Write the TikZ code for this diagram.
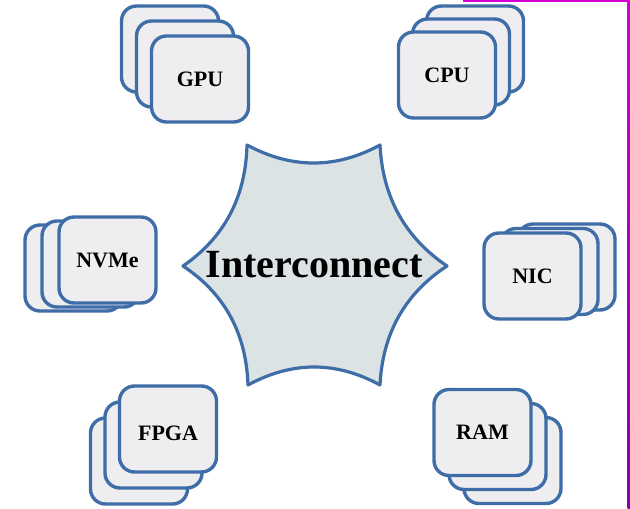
\documentclass[tikz,border=0pt]{standalone}
\usepackage{fontspec}
\setmainfont{Liberation Serif}
\usetikzlibrary{calc}

\definecolor{edgeblue}{HTML}{3F6DA8}
\definecolor{cardfill}{HTML}{EEEEF0}
\definecolor{hubfill}{HTML}{DCE3E5}
\definecolor{railtop}{HTML}{D400D4}
\definecolor{railbot}{HTML}{8A00A6}

% a stack of three cards: name, centre x, centre y, step x, step y, label
\newcommand\cardstack[6]{%
  \node[card] (#1-3) at ({#2+2*(#4)}, {#3+2*(#5)}) {};
  \node[card] (#1-2) at ({#2+(#4)}, {#3+(#5)}) {};
  \node[card] (#1) at (#2, #3) {#6};
}

\begin{document}
\begin{tikzpicture}[x=1pt, y=-1pt,
  card/.style={draw=edgeblue, fill=cardfill, line width=3.4pt,
    rounded corners=15pt, minimum width=97pt, minimum height=86pt,
    inner sep=0pt, font=\fontsize{22}{26}\selectfont\bfseries},
  hub/.style={draw=edgeblue, fill=hubfill, line width=3.2pt, line join=round},
  hublabel/.style={inner sep=0pt, font=\fontsize{40}{46}\selectfont\bfseries},
]
\useasboundingbox (0,0) rectangle (630,509);

% page rail
\fill[railtop] (463,0) rectangle (630,2);
\shade[top color=railtop, bottom color=railbot] (627.5,0) rectangle (630,509);

% central star
\coordinate (h1) at (247,145);
\coordinate (h2) at (380,145);
\coordinate (h3) at (447,266);
\coordinate (h4) at (380,385);
\coordinate (h5) at (248,385);
\coordinate (h6) at (183,266);
\coordinate (q12) at (313.95,181);
\coordinate (q23) at (383.95,223.35);
\coordinate (q34) at (383.95,307.35);
\coordinate (q45) at (314.3,349);
\coordinate (q56) at (245.35,307.35);
\coordinate (q61) at (245,223.35);
\draw[hub] (h1)
  .. controls ($(h1)!2/3!(q12)$) and ($(h2)!2/3!(q12)$) .. (h2)
  .. controls ($(h2)!2/3!(q23)$) and ($(h3)!2/3!(q23)$) .. (h3)
  .. controls ($(h3)!2/3!(q34)$) and ($(h4)!2/3!(q34)$) .. (h4)
  .. controls ($(h4)!2/3!(q45)$) and ($(h5)!2/3!(q45)$) .. (h5)
  .. controls ($(h5)!2/3!(q56)$) and ($(h6)!2/3!(q56)$) .. (h6)
  .. controls ($(h6)!2/3!(q61)$) and ($(h1)!2/3!(q61)$) .. (h1) -- cycle;
\node[hublabel] (hub) at (314,265) {Interconnect};

% device stacks
\cardstack{gpu}{200}{79}{-15}{-15}{GPU}
\cardstack{cpu}{447}{75}{14}{-13}{CPU}
\cardstack{nvme}{107.5}{260}{-17}{4}{NVMe}
\cardstack{nic}{532.5}{276}{17}{-4.5}{NIC}
\cardstack{fpga}{168}{429}{-14.5}{16}{\vphantom{FPGA}\smash{\raisebox{-4pt}{FPGA}}}
\cardstack{ram}{482.5}{432.5}{15}{14}{RAM}
\end{tikzpicture}
\end{document}
